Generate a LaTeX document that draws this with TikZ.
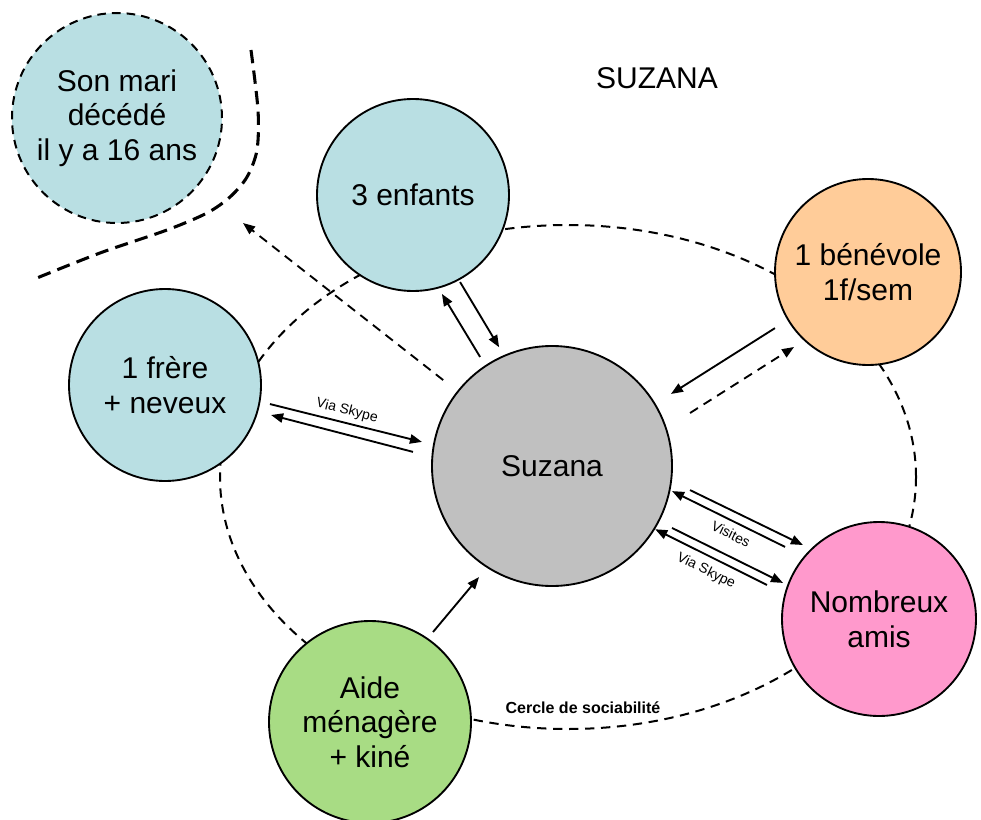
\documentclass[tikz,border=0pt]{standalone}
\usepackage{fontspec}
\setmainfont{Liberation Sans}
\usetikzlibrary{arrows.meta,calc,shapes.geometric}
\definecolor{cBlue}{HTML}{B9DFE3}
\definecolor{cOrange}{HTML}{FFCC99}
\definecolor{cPink}{HTML}{FF99CC}
\definecolor{cGreen}{HTML}{A8DC84}
\definecolor{cGray}{HTML}{C0C0C0}
\newcommand\nodefont{\fontsize{22.5}{26}\selectfont}
\begin{document}
\begin{tikzpicture}[x=0.75pt,y=-0.75pt,
  person/.style={circle, draw, line width=1.4pt, inner sep=0pt, align=center, font=\nodefont},
  link/.style={line width=1.4pt, -{Triangle[length=9pt,width=7pt]}},
  dlink/.style={link, dash pattern=on 7pt off 5pt},
  lbl/.style={font=\fontsize{10.5}{12}\selectfont, inner sep=0pt}]

\path[use as bounding box] (0,0) rectangle (981,820);

% sociability ring (drawn first, the circles cover it)
\node[ellipse, draw, line width=1.5pt, dash pattern=on 7pt off 5pt,
      minimum width=522pt, minimum height=378pt, inner sep=0pt] (ring) at (568,477) {};

% separating line around the late husband
\draw[line width=2.3pt, dash pattern=on 10pt off 5.5pt]
  plot[smooth] coordinates {(251,50) (258,110) (257,150) (247,177) (230,197) (207,213) (167,230) (100,253) (32,280)};

% people
\node[person, line width=1.5pt, dash pattern=on 6.5pt off 4.5pt, fill=cBlue, minimum size=157.5pt] (mari) at (117,118) {Son mari\\décédé\\il y a 16 ans};
\node[person, fill=cBlue, minimum size=144pt] (enf) at (413,195) {3 enfants};
\node[person, fill=cOrange, minimum size=139.5pt] (ben) at (868,272) {1 bénévole\\1f/sem};
\node[person, fill=cBlue, minimum size=144pt] (frere) at (165,385) {1 frère\\+ neveux};
\node[person, fill=cGray, minimum size=180pt] (suz) at (552,466) {Suzana};
\node[person, fill=cPink, minimum size=145.5pt] (amis) at (879,619) {Nombreux\\amis};
\node[person, fill=cGreen, minimum size=151.5pt] (aide) at (370,722) {Aide\\ménagère\\+ kiné};

% titles
\node[font=\nodefont] (title) at (657,78) {SUZANA};
\node[font=\bfseries\fontsize{12}{14}\selectfont] (ringlbl) at (583,708) {Cercle de sociabilité};

% towards the past
\coordinate (away) at (243,223);
\draw[dlink] ($(suz)+(141.7:104pt)$) -- (away);

% children
\draw[link] ($(suz)+(123.4:98pt)$) -- ($(enf)+(286.3:77.3pt)$);
\draw[link] ($(enf)+(298.4:74.2pt)$) -- ($(suz)+(114:97.5pt)$);

% brother
\draw[link] ($(frere)+(-10.3:80pt)$) -- ($(suz)+(169.5:99.2pt)$);
\draw[link] ($(suz)+(174.2:104.8pt)$) -- ($(frere)+(-15.8:82.7pt)$);
\node[lbl, rotate=-14] (skype1) at (347,411) {Via Skype};

% volunteer
\draw[link] ($(ben)+(211.1:81.5pt)$) -- ($(suz)+(31.2:104.3pt)$);
\draw[dlink] ($(suz)+(21:110.9pt)$) -- ($(ben)+(225.4:79pt)$);

% friends
\draw[link] ($(suz)+(-9.9:105.1pt)$) -- ($(amis)+(135.8:79.6pt)$);
\draw[link] ($(amis)+(142.5:88.8pt)$) -- ($(suz)+(-11.8:92pt)$);
\draw[link] ($(amis)+(163.1:87.8pt)$) -- ($(suz)+(-31.5:90.8pt)$);
\draw[link] ($(suz)+(-27.3:101.3pt)$) -- ($(amis)+(159.4:76.9pt)$);
\node[lbl, rotate=-26] (visites) at (731,534) {Visites};
\node[lbl, rotate=-26] (skype2) at (706,571) {Via Skype};

% home help
\draw[link] ($(aide)+(55:82.4pt)$) -- ($(suz)+(236.7:99.7pt)$);

\end{tikzpicture}
\end{document}
